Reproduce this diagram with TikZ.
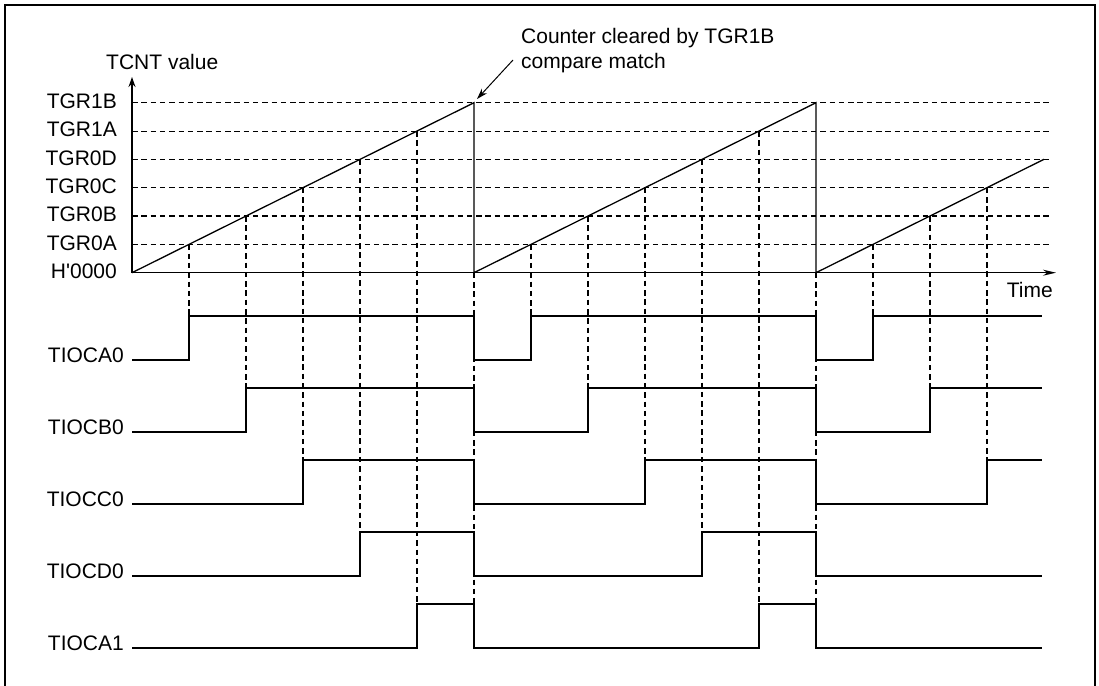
\documentclass[tikz,border=0pt]{standalone}
\usepackage{fontspec}
\setmainfont{Liberation Sans}
\usetikzlibrary{arrows.meta}
\begin{document}
\begin{tikzpicture}[x=1pt,y=-1pt,
  lbl/.style={font=\fontsize{21}{25}\selectfont, inner sep=0pt},
  sig/.style={line width=1.3pt, line join=miter},
  dline/.style={line width=1.1pt, dash pattern=on 5.5pt off 3.8pt},
  axisline/.style={line width=1.4pt},
  frameline/.style={line width=1.4pt}]
\useasboundingbox (0,0) rectangle (1099,685);
% frame
\draw[frameline] (5,700) -- (5,5) -- (1095,5) -- (1095,700);

% level dashed lines
\foreach \k in {1,...,6}{
  \draw[dline] (132,{272.7-28.33*\k}) -- (1050,{272.7-28.33*\k});
}

% level labels
\node[lbl, anchor=base east] (lH) at (117,278.5) {H\textquotesingle 0000};
\node[lbl, anchor=base east] (l0A) at (117,250.1) {TGR0A};
\node[lbl, anchor=base east] (l0B) at (117,221.8) {TGR0B};
\node[lbl, anchor=base east] (l0C) at (117,193.5) {TGR0C};
\node[lbl, anchor=base east] (l0D) at (117,165.1) {TGR0D};
\node[lbl, anchor=base east] (l1A) at (117,136.8) {TGR1A};
\node[lbl, anchor=base east] (l1B) at (117,108.5) {TGR1B};
\node[lbl, anchor=base west] (ytitle) at (106,69) {TCNT value};
\node[lbl, anchor=base east] (xtitle) at (1053,297) {Time};

% dashed verticals
\foreach \x/\yt/\yb in {189/244.3/316, 246/216/388, 303/187.7/460, 360/159.3/532, 417/131/604, 474/272.7/604,
                        531/244.3/316, 588/216/388, 645/187.7/460, 702/159.3/532, 759/131/604, 816/272.7/604,
                        873/244.3/316, 930/216/388, 987/187.7/460}{
  \draw[dline] (\x,\yt) -- (\x,\yb);
}

% axes
\coordinate (O) at (132,272.7);
\coordinate (ytip) at (132,77);
\coordinate (xtip) at (1056,272.7);
\draw[axisline, -{Stealth[length=10pt,width=7pt]}] (O) -- (ytip);
\draw[axisline, -{Stealth[length=13pt,width=6pt]}] (O) -- (xtip);

% sawtooth
\coordinate (peak1) at (474,102.7);
\draw[sig] (O) -- (peak1) -- (474,272.7) -- (816,102.7) -- (816,272.7) -- (1044,159.3);

% annotation
\node[lbl, anchor=base west] (ann1) at (521,43.3) {Counter cleared by TGR1B};
\node[lbl, anchor=base west] (ann2) at (521,68.3) {compare match};
\coordinate (annstart) at (513,60);
\draw[line width=1pt, -{Stealth[length=11pt,width=7pt]}] (annstart) -- (477,99);

% signal labels
\node[lbl, anchor=base east] (sA0) at (124,362.3) {TIOCA0};
\node[lbl, anchor=base east] (sB0) at (124,434) {TIOCB0};
\node[lbl, anchor=base east] (sC0) at (124,506.3) {TIOCC0};
\node[lbl, anchor=base east] (sD0) at (124,578.3) {TIOCD0};
\node[lbl, anchor=base east] (sA1) at (124,650.3) {TIOCA1};

% waveforms
\draw[sig] (132,360) -- (189,360) -- (189,316) -- (474,316) -- (474,360) -- (531,360) -- (531,316) -- (816,316) -- (816,360) -- (873,360) -- (873,316) -- (1042,316);
\draw[sig] (132,432) -- (246,432) -- (246,388) -- (474,388) -- (474,432) -- (588,432) -- (588,388) -- (816,388) -- (816,432) -- (930,432) -- (930,388) -- (1042,388);
\draw[sig] (132,504) -- (303,504) -- (303,460) -- (474,460) -- (474,504) -- (645,504) -- (645,460) -- (816,460) -- (816,504) -- (987,504) -- (987,460) -- (1042,460);
\draw[sig] (132,576) -- (360,576) -- (360,532) -- (474,532) -- (474,576) -- (702,576) -- (702,532) -- (816,532) -- (816,576) -- (1042,576);
\draw[sig] (132,648) -- (417,648) -- (417,604) -- (474,604) -- (474,648) -- (759,648) -- (759,604) -- (816,604) -- (816,648) -- (1042,648);
\end{tikzpicture}
\end{document}
